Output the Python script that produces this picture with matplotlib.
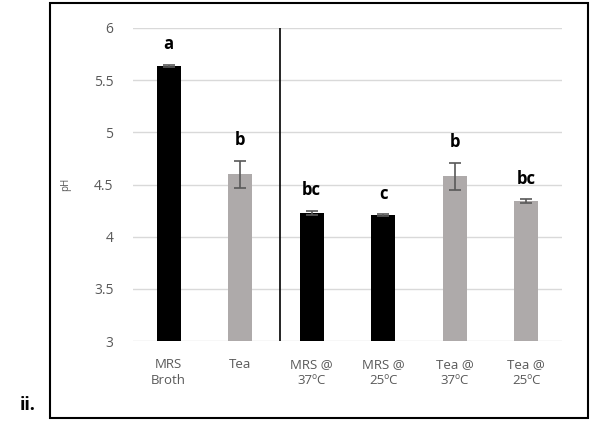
import matplotlib.pyplot as plt
from matplotlib.patches import Rectangle

# данные
labels = ['MRS\nBroth', 'Tea', 'MRS @\n37ºC', 'MRS @\n25ºC', 'Tea @\n37ºC', 'Tea @\n25ºC']
ph = [5.64, 4.60, 4.23, 4.21, 4.58, 4.34]
err = [0.01, 0.13, 0.02, 0.01, 0.13, 0.02]
groups = ['a', 'b', 'bc', 'c', 'b', 'bc']
colors = ['#000000', '#AEAAAA', '#000000', '#000000', '#AEAAAA', '#AEAAAA']

plt.rcParams['font.family'] = ['Open Sans', 'DejaVu Sans']

fig = plt.figure(figsize=(5.95, 4.21), dpi=100)
ax = fig.add_axes([0.2235, 0.19, 0.721, 0.7435])

x = range(len(labels))
ax.bar(x, ph, width=0.34, color=colors, zorder=3,
       yerr=err, error_kw=dict(ecolor='#595959', elinewidth=1.2, capsize=4, capthick=1.2))

for i in x:
    ax.annotate(groups[i], (i, ph[i] + err[i]), xytext=(0, 8), textcoords='offset points',
                ha='center', va='bottom', fontsize=12, fontweight='bold')

ax.set_ylim(3, 6)
ax.set_xlim(-0.5, 5.5)
ax.set_yticks([3, 3.5, 4, 4.5, 5, 5.5, 6])
ax.set_yticklabels(['3', '3.5', '4', '4.5', '5', '5.5', '6'])
ax.set_xticks(list(x))
ax.set_xticklabels(labels, linespacing=1.3)
ax.tick_params(length=0, colors='#595959')
ax.tick_params(axis='x', pad=12, labelsize=9.5)
ax.tick_params(axis='y', pad=14, labelsize=10)
ax.grid(axis='y', color='#D9D9D9', linewidth=1, zorder=0)
for s in ax.spines.values():
    s.set_visible(False)

# разделитель
ax.axvline(1.55, ymin=0, ymax=1, color='black', linewidth=1.2, zorder=4)

ax.set_ylabel('pH', color='#595959', fontsize=7, labelpad=2)
ax.yaxis.set_label_coords(-0.145, 0.5)

# рамка вокруг графика
fig.patches.append(Rectangle((50 / 595, 3 / 421), 538 / 595, 415 / 421, transform=fig.transFigure,
                             fill=False, edgecolor='black', linewidth=1.5))
fig.text(28 / 595, 1 - 405 / 421, 'ii.', fontsize=13, fontweight='bold', ha='center', va='center')

fig.savefig('out.png', dpi=100)
